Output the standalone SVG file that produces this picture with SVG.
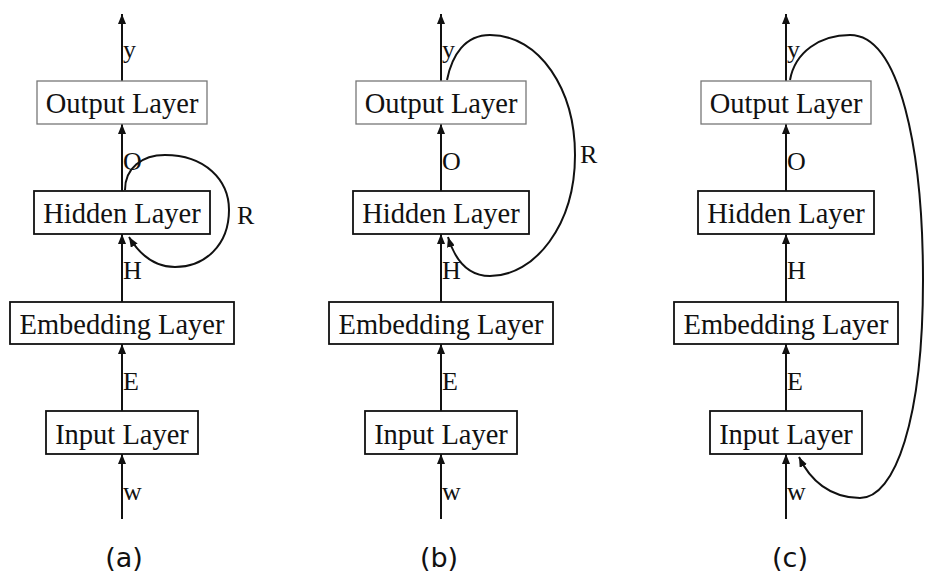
<svg xmlns="http://www.w3.org/2000/svg" width="925" height="577" viewBox="0 0 925 577">
<defs>
<marker id="ah" markerUnits="userSpaceOnUse" markerWidth="11" markerHeight="8" refX="10" refY="4" orient="auto">
<path d="M0,0 L10,4 L0,8 z" fill="#111"/>
</marker>
<style>
.box{fill:#fff;stroke:#111;stroke-width:1.8}
.obox{fill:#fff;stroke:#777;stroke-width:1.3}
.bt{font-family:"Liberation Serif","Times New Roman",serif;font-size:28.5px;fill:#111;text-anchor:middle}
.lb{font-family:"Liberation Serif","Times New Roman",serif;font-size:26px;fill:#111}
.cap{font-family:"DejaVu Sans",Arial,sans-serif;font-size:27px;fill:#111;text-anchor:middle}
.ln{fill:none;stroke:#111;stroke-width:2;marker-end:url(#ah)}
</style>
</defs>
<rect width="925" height="577" fill="#fff"/>
<g id="connectors">
<line class="ln" x1="122" y1="519" x2="122" y2="454"/>
<line class="ln" x1="122" y1="411" x2="122" y2="344"/>
<line class="ln" x1="122" y1="302" x2="122" y2="234"/>
<line class="ln" x1="122" y1="191" x2="122" y2="124"/>
<line class="ln" x1="122" y1="81" x2="122" y2="14"/>
<path class="ln" d="M125,190 C125,168 142,155 165,155 C205,155 229,180 229,210 C229,245 205,267 175,267 C155,267 140,255 129,237"/>
<line class="ln" x1="441" y1="519" x2="441" y2="454"/>
<line class="ln" x1="441" y1="411" x2="441" y2="344"/>
<line class="ln" x1="441" y1="302" x2="441" y2="234"/>
<line class="ln" x1="441" y1="191" x2="441" y2="124"/>
<line class="ln" x1="441" y1="81" x2="441" y2="14"/>
<path class="ln" d="M447,80 C452,55 465,35 490,35 C540,35 575,90 575,155 C575,225 535,276 490,276 C468,276 455,260 448,237"/>
<line class="ln" x1="786" y1="519" x2="786" y2="454"/>
<line class="ln" x1="786" y1="411" x2="786" y2="344"/>
<line class="ln" x1="786" y1="302" x2="786" y2="234"/>
<line class="ln" x1="786" y1="191" x2="786" y2="124"/>
<line class="ln" x1="786" y1="81" x2="786" y2="14"/>
<path class="ln" d="M790,80 C795,52 820,35 850,35 C900,35 923,150 923,280 C923,420 895,498 860,498 C830,498 810,480 799,457"/>
</g>
<g id="a-output"><rect class="obox" x="37" y="81" width="170" height="43"/><text class="bt" x="122" y="113">Output Layer</text></g>
<g id="a-hidden"><rect class="box" x="34" y="191" width="176" height="43"/><text class="bt" x="122" y="223">Hidden Layer</text></g>
<g id="a-embedding"><rect class="box" x="10" y="302" width="224" height="42"/><text class="bt" x="122" y="334">Embedding Layer</text></g>
<g id="a-input"><rect class="box" x="46" y="411" width="152" height="43"/><text class="bt" x="122" y="444">Input Layer</text></g>
<g id="a-labels">
<text class="lb" x="123" y="58">y</text>
<text class="lb" x="123" y="170">O</text>
<text class="lb" x="123" y="279">H</text>
<text class="lb" x="123" y="390">E</text>
<text class="lb" x="123" y="500">w</text>
<text class="lb" x="237" y="224">R</text>
<text class="cap" x="124" y="567">(a)</text>
</g>
<g id="b-output"><rect class="obox" x="356" y="81" width="170" height="43"/><text class="bt" x="441" y="113">Output Layer</text></g>
<g id="b-hidden"><rect class="box" x="353" y="191" width="176" height="43"/><text class="bt" x="441" y="223">Hidden Layer</text></g>
<g id="b-embedding"><rect class="box" x="329" y="302" width="224" height="42"/><text class="bt" x="441" y="334">Embedding Layer</text></g>
<g id="b-input"><rect class="box" x="365" y="411" width="152" height="43"/><text class="bt" x="441" y="444">Input Layer</text></g>
<g id="b-labels">
<text class="lb" x="442" y="58">y</text>
<text class="lb" x="442" y="170">O</text>
<text class="lb" x="442" y="279">H</text>
<text class="lb" x="442" y="390">E</text>
<text class="lb" x="442" y="500">w</text>
<text class="lb" x="580" y="163">R</text>
<text class="cap" x="439" y="567">(b)</text>
</g>
<g id="c-output"><rect class="obox" x="701" y="81" width="170" height="43"/><text class="bt" x="786" y="113">Output Layer</text></g>
<g id="c-hidden"><rect class="box" x="698" y="191" width="176" height="43"/><text class="bt" x="786" y="223">Hidden Layer</text></g>
<g id="c-embedding"><rect class="box" x="674" y="302" width="224" height="42"/><text class="bt" x="786" y="334">Embedding Layer</text></g>
<g id="c-input"><rect class="box" x="710" y="411" width="152" height="43"/><text class="bt" x="786" y="444">Input Layer</text></g>
<g id="c-labels">
<text class="lb" x="787" y="58">y</text>
<text class="lb" x="787" y="170">O</text>
<text class="lb" x="787" y="279">H</text>
<text class="lb" x="787" y="390">E</text>
<text class="lb" x="787" y="500">w</text>
<text class="cap" x="790" y="567">(c)</text>
</g>
</svg>
